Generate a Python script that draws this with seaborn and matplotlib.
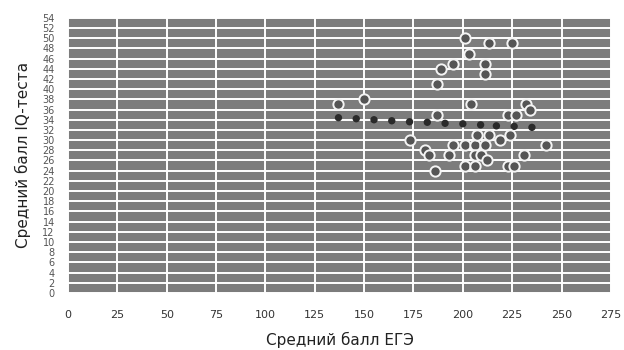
import matplotlib
matplotlib.use("Agg")
import matplotlib.pyplot as plt
import seaborn as sns
import pandas as pd

# observed points: mean USE score vs mean IQ test score
ege = [201, 203, 213, 225, 189, 195, 211, 211, 187, 137, 150, 204, 187, 223, 227,
       232, 234, 173, 181, 183, 186, 195, 201, 206, 211, 193, 206, 209, 212, 201,
       206, 223, 226, 231, 242, 207, 213, 219, 224]
iq = [50, 47, 49, 49, 44, 45, 45, 43, 41, 37, 38, 37, 35, 35, 35,
      37, 36, 30, 28, 27, 24, 29, 29, 29, 29, 27, 27, 27, 26, 25,
      25, 25, 25, 27, 29, 31, 31, 30, 31]

# dotted trend points
trend_x = [137, 146, 155, 164, 173, 182, 191, 200, 209, 217, 226, 235]
trend_y = [34.4, 34.2, 34.0, 33.8, 33.6, 33.5, 33.3, 33.2, 33.0, 32.8, 32.7, 32.5]

x_ticks = list(range(0, 276, 25))
y_ticks = list(range(0, 55, 2))

df = pd.DataFrame({"ege": ege, "iq": iq})
trend = pd.DataFrame({"x": trend_x, "y": trend_y})

sns.set_style("darkgrid", {"axes.facecolor": "#7c7c7c", "grid.color": "white"})
plt.rcParams["font.family"] = ["DejaVu Sans"]

fig = plt.figure(figsize=(6.24, 3.5), dpi=100)
ax = fig.add_axes([0.109, 0.163, 0.87, 0.786])

sns.scatterplot(data=trend, x="x", y="y", ax=ax, color="#2a2a2a", s=28,
                edgecolor="none", zorder=3)
sns.scatterplot(data=df, x="ege", y="iq", ax=ax, color="#555555", s=55,
                edgecolor="#f4f4f4", linewidth=1.4, zorder=4)

ax.set_xlim(0, 275)
ax.set_ylim(0, 54)
ax.set_xticks(x_ticks)
ax.set_yticks(y_ticks)
ax.tick_params(axis="x", labelsize=8, colors="#333333", pad=9)
ax.tick_params(axis="y", labelsize=7, colors="#555555", pad=6)
ax.grid(True, color="white", linewidth=1.4)
for s in ax.spines.values():
    s.set_visible(False)

ax.set_xlabel("Средний балл ЕГЭ", fontsize=11, color="#222222", labelpad=8)
ax.set_ylabel("Средний балл IQ-теста", fontsize=11, color="#222222", labelpad=8)

plt.savefig("out.png", dpi=100)
plt.close()
